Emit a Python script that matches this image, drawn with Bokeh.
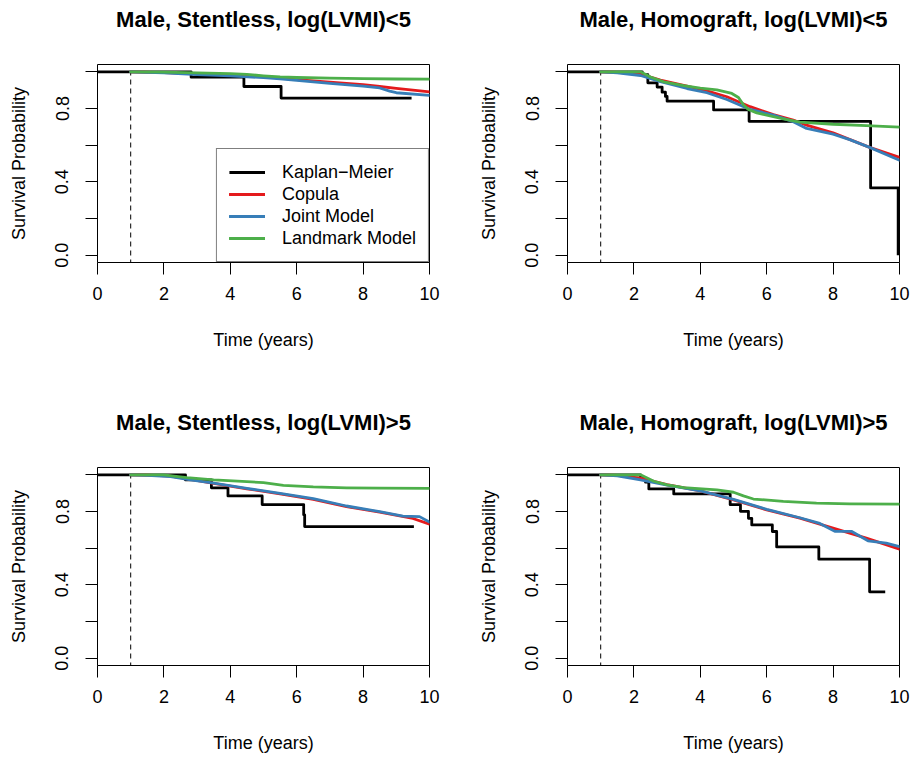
from bokeh.plotting import figure
from bokeh.models import Range1d, FixedTicker, PrintfTickFormatter, Title
from bokeh.layouts import column, row
from bokeh.embed import file_html
from bokeh.resources import INLINE

# ---------------- data ----------------
titles = ["Male, Stentless, log(LVMI)<5", "Male, Homograft, log(LVMI)<5",
          "Male, Stentless, log(LVMI)>5", "Male, Homograft, log(LVMI)>5"]
series_names = ["Kaplan\u2212Meier", "Copula", "Joint Model", "Landmark Model"]
series_colors = ["black", "#E41A1C", "#377EB8", "#4DAF4A"]
x_ticks = [0, 2, 4, 6, 8, 10]
y_ticks_labeled = [0.0, 0.4, 0.8]
y_ticks_unlabeled = [0.2, 0.6, 1.0]
landmark_time = 1.0
x_label = "Time (years)"
y_label = "Survival Probability"

# Panel 1: Stentless, log(LVMI)<5
p1_km_t = [0, 2.82, 4.41, 5.53, 9.46]
p1_km_s = [1.0, 0.971, 0.920, 0.857, 0.857]
p1_cop_t = [1, 2, 3, 4, 5, 5.5, 6, 7, 8, 8.5, 9, 10]
p1_cop_s = [1.0, 0.996, 0.989, 0.983, 0.974, 0.966, 0.958, 0.944, 0.930, 0.920, 0.910, 0.891]
p1_jm_t = [1, 2, 3, 4, 5, 5.5, 6, 7, 8, 8.5, 8.8, 9, 10]
p1_jm_s = [1.0, 0.994, 0.985, 0.978, 0.968, 0.962, 0.953, 0.937, 0.922, 0.912, 0.895, 0.886, 0.872]
p1_lm_t = [1, 2, 3, 4, 4.5, 5, 5.5, 6, 7, 8, 9, 10]
p1_lm_s = [1.0, 0.998, 0.994, 0.990, 0.986, 0.978, 0.972, 0.969, 0.966, 0.963, 0.961, 0.960]

# Panel 2: Homograft, log(LVMI)<5
p2_km_t = [0, 2.25, 2.42, 2.70, 2.85, 2.95, 3.0, 4.40, 5.47, 9.13, 9.96]
p2_km_s = [1.0, 0.984, 0.940, 0.917, 0.889, 0.866, 0.840, 0.792, 0.730, 0.367, 0.0]
p2_cop_t = [1, 1.5, 2.2, 2.8, 3.6, 4.2, 4.8, 5.5, 6.2, 6.8, 7.2, 8.0, 9.1, 10]
p2_cop_s = [1.0, 0.997, 0.988, 0.955, 0.922, 0.896, 0.864, 0.810, 0.767, 0.737, 0.709, 0.667, 0.588, 0.533]
p2_jm_t = [1, 1.5, 2.2, 2.8, 3.6, 4.2, 4.8, 5.5, 6.2, 6.8, 7.2, 8.0, 8.5, 9.1, 10]
p2_jm_s = [1.0, 0.995, 0.980, 0.946, 0.909, 0.886, 0.849, 0.795, 0.764, 0.728, 0.691, 0.660, 0.630, 0.588, 0.518]
p2_lm_t = [1, 2.2, 2.5, 2.9, 3.5, 4.0, 4.5, 4.95, 5.15, 5.3, 5.45, 5.7, 6.5, 7.0, 8.0, 9.0, 10]
p2_lm_s = [1.0, 1.0, 0.972, 0.945, 0.925, 0.911, 0.902, 0.882, 0.860, 0.820, 0.795, 0.776, 0.744, 0.726, 0.714, 0.707, 0.698]

# Panel 3: Stentless, log(LVMI)>5
p3_km_t = [0, 2.65, 3.43, 3.93, 4.96, 6.21, 6.24, 9.53]
p3_km_s = [1.0, 0.972, 0.929, 0.885, 0.838, 0.782, 0.718, 0.718]
p3_cop_t = [1, 1.5, 2.2, 2.8, 3.5, 4.5, 5.5, 6.5, 7.5, 8.5, 9.5, 10]
p3_cop_s = [1.0, 0.998, 0.993, 0.975, 0.954, 0.924, 0.896, 0.866, 0.826, 0.796, 0.762, 0.731]
p3_jm_t = [1, 1.5, 2.2, 2.8, 3.5, 4.5, 5.5, 6.5, 7.5, 8.5, 9.2, 9.7, 10]
p3_jm_s = [1.0, 0.997, 0.990, 0.973, 0.955, 0.926, 0.899, 0.870, 0.830, 0.799, 0.775, 0.772, 0.742]
p3_lm_t = [1, 2.0, 2.3, 2.7, 3.5, 4.5, 5.0, 5.6, 6.5, 7.5, 8.5, 10]
p3_lm_s = [1.0, 1.0, 0.993, 0.985, 0.973, 0.963, 0.957, 0.943, 0.934, 0.929, 0.927, 0.926]

# Panel 4: Homograft, log(LVMI)>5
p4_km_t = [0, 2.2, 2.35, 2.45, 3.2, 4.9, 5.21, 5.45, 5.55, 6.17, 6.3, 7.57, 9.1, 9.57]
p4_km_s = [1.0, 0.980, 0.960, 0.923, 0.896, 0.837, 0.801, 0.763, 0.727, 0.691, 0.607, 0.540, 0.362, 0.362]
p4_cop_t = [1, 1.5, 2.2, 3.0, 4.0, 5.0, 6.0, 7.0, 8.0, 9.0, 10]
p4_cop_s = [1.0, 0.997, 0.982, 0.947, 0.912, 0.863, 0.809, 0.764, 0.709, 0.655, 0.595]
p4_jm_t = [1, 1.5, 2.2, 3.0, 4.0, 5.0, 6.0, 7.0, 7.6, 8.05, 8.55, 9.05, 9.6, 10]
p4_jm_s = [1.0, 0.995, 0.973, 0.944, 0.912, 0.866, 0.812, 0.766, 0.735, 0.692, 0.692, 0.640, 0.627, 0.609]
p4_lm_t = [1, 2.2, 2.6, 3.0, 3.5, 4.5, 5.0, 5.3, 5.6, 6.5, 7.5, 8.5, 10]
p4_lm_s = [1.0, 1.0, 0.965, 0.945, 0.930, 0.918, 0.905, 0.885, 0.868, 0.855, 0.846, 0.842, 0.840]

panels = [
    (p1_km_t, p1_km_s, p1_cop_t, p1_cop_s, p1_jm_t, p1_jm_s, p1_lm_t, p1_lm_s),
    (p2_km_t, p2_km_s, p2_cop_t, p2_cop_s, p2_jm_t, p2_jm_s, p2_lm_t, p2_lm_s),
    (p3_km_t, p3_km_s, p3_cop_t, p3_cop_s, p3_jm_t, p3_jm_s, p3_lm_t, p3_lm_s),
    (p4_km_t, p4_km_s, p4_cop_t, p4_cop_s, p4_jm_t, p4_jm_s, p4_lm_t, p4_lm_s),
]

FONT = "Liberation Sans"
LW = 2.8


def make_panel(idx, width, height, b_left, b_right, b_top, b_bottom, legend):
    km_t, km_s, cop_t, cop_s, jm_t, jm_s, lm_t, lm_s = panels[idx]
    p = figure(width=width, height=height, x_range=Range1d(0, 10),
               y_range=Range1d(-0.04, 1.04), output_backend="svg",
               toolbar_location=None, title=None,
               min_border_left=b_left, min_border_right=b_right,
               min_border_top=b_top, min_border_bottom=b_bottom)
    p.background_fill_color = "white"
    p.border_fill_color = "white"
    p.outline_line_color = "black"
    p.outline_line_width = 1
    p.grid.visible = False

    # spacer next to the frame, then the real title above it
    p.add_layout(Title(text=" ", text_font_size="1px", standoff=30), "above")
    p.add_layout(Title(text=titles[idx], text_font=FONT, text_font_size="22px",
                       text_font_style="bold", text_color="black",
                       align="center", vertical_align="bottom", standoff=0),
                 "above")

    for ax in (p.xaxis[0], p.yaxis[0]):
        ax.axis_line_color = None
        ax.major_tick_line_color = "black"
        ax.major_tick_line_width = 1
        ax.major_tick_out = 12
        ax.major_tick_in = 0
        ax.minor_tick_line_color = "black"
        ax.minor_tick_line_width = 1
        ax.minor_tick_out = 12
        ax.minor_tick_in = 0
        ax.major_label_text_font = FONT
        ax.major_label_text_font_size = "18px"
        ax.major_label_text_color = "black"
        ax.axis_label_text_font = FONT
        ax.axis_label_text_font_size = "18px"
        ax.axis_label_text_font_style = "normal"
        ax.axis_label_text_color = "black"

    p.xaxis.ticker = FixedTicker(ticks=x_ticks, minor_ticks=[])
    p.xaxis.axis_label = x_label
    p.xaxis.major_label_standoff = 12
    p.xaxis.axis_label_standoff = 27
    p.yaxis.ticker = FixedTicker(ticks=y_ticks_labeled, minor_ticks=y_ticks_unlabeled)
    p.yaxis.formatter = PrintfTickFormatter(format="%.1f")
    p.yaxis.major_label_orientation = "vertical"
    p.yaxis.major_label_standoff = 17
    p.yaxis.axis_label = y_label
    p.yaxis.axis_label_standoff = 24

    p.segment(x0=[landmark_time], y0=[-0.1], x1=[landmark_time], y1=[1.0],
              line_color="black", line_width=1, line_dash="5 4")

    kw = [dict(), dict(), dict(), dict()]
    if legend:
        kw = [dict(legend_label=n) for n in series_names]
    p.step(km_t, km_s, mode="after", line_color=series_colors[0], line_width=LW,
           line_join="round", **kw[0])
    p.line(cop_t, cop_s, line_color=series_colors[1], line_width=LW,
           line_join="round", line_cap="round", **kw[1])
    p.line(jm_t, jm_s, line_color=series_colors[2], line_width=LW,
           line_join="round", line_cap="round", **kw[2])
    p.line(lm_t, lm_s, line_color=series_colors[3], line_width=LW,
           line_join="round", line_cap="round", **kw[3])

    if legend:
        lg = p.legend[0]
        lg.location = "bottom_right"
        lg.margin = 0
        lg.padding = 12
        lg.spacing = 0
        lg.label_height = 22
        lg.glyph_height = 22
        lg.glyph_width = 36
        lg.label_standoff = 17
        lg.border_line_color = "black"
        lg.border_line_width = 1
        lg.background_fill_color = "white"
        lg.background_fill_alpha = 1.0
        lg.label_text_font = FONT
        lg.label_text_font_size = "18px"
        lg.label_text_color = "black"
    return p


top_h = 403
bot_h = 757 - top_h
p1 = make_panel(0, 470, top_h, 97, 41, 64, top_h - 64 - 198, True)
p2 = make_panel(1, 442, top_h, 97, 13, 64, top_h - 64 - 198, False)
p3 = make_panel(2, 470, bot_h, 97, 41, 64, bot_h - 64 - 198, False)
p4 = make_panel(3, 442, bot_h, 97, 13, 64, bot_h - 64 - 198, False)

layout = column(row(p1, p2), row(p3, p4))
open("out.html", "w").write(file_html(layout, INLINE))
